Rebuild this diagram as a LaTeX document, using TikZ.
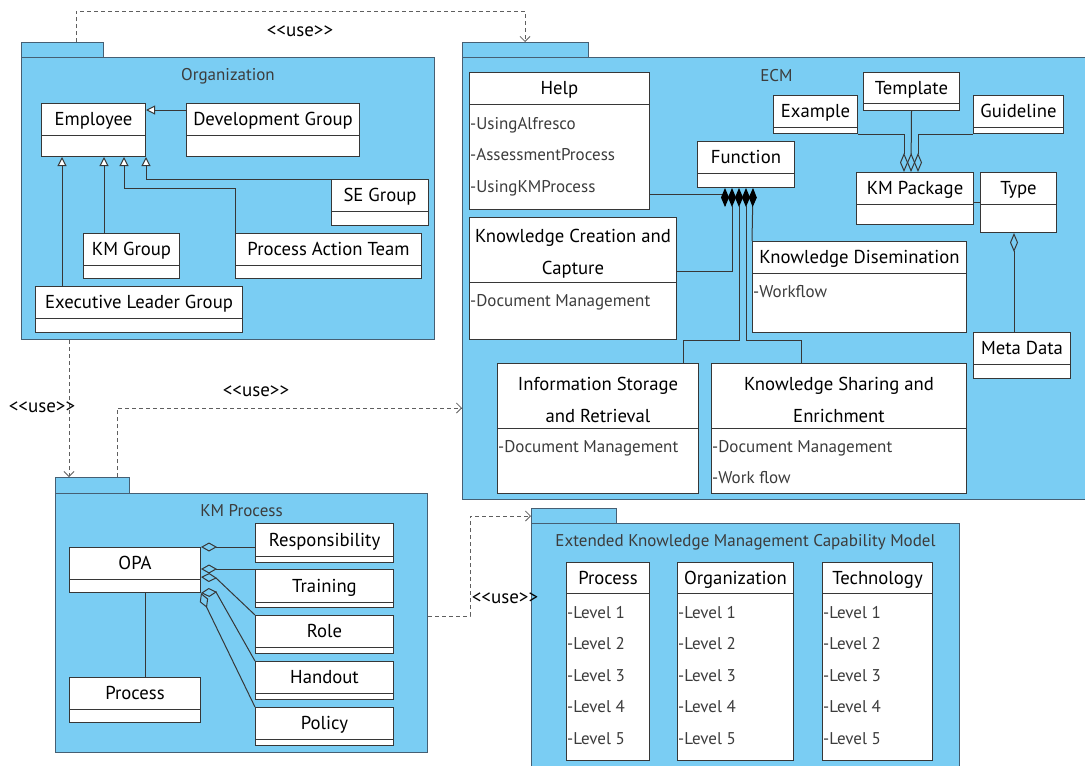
\documentclass[tikz,border=0pt]{standalone}
\usepackage{fontspec}
\setmainfont{PT Sans}
\usetikzlibrary{arrows.meta,positioning}

\definecolor{pkgblue}{RGB}{122,205,243}
\definecolor{pkgline}{RGB}{70,95,115}
\definecolor{clsline}{RGB}{55,55,55}
\definecolor{attrgray}{RGB}{60,60,60}
\definecolor{usegray}{RGB}{95,95,95}

\tikzset{
  pkg/.style={draw=pkgline, fill=pkgblue, line width=1pt, inner sep=0pt, anchor=north west},
  cls/.style={draw=clsline, fill=white, line width=1pt, inner sep=0pt, anchor=north west},
  div/.style={draw=clsline, line width=1pt},
  clsname/.style={inner sep=0pt, text height=12.5pt, text depth=4pt, font=\fontsize{18.7}{22}\selectfont},
  twoline/.style={inner sep=0pt, align=center, font=\fontsize{18.7}{32}\selectfont},
  attr/.style={inner sep=0pt, anchor=west, text=attrgray, text height=12.5pt, text depth=4pt},
  pkgtitle/.style={inner sep=0pt, text=attrgray, text height=12.5pt, text depth=4pt},
  uselabel/.style={inner sep=0pt, font=\fontsize{19}{22}\selectfont},
  assoc/.style={draw=clsline, line width=1pt},
  gen/.style={assoc, -{Triangle[open, fill=white, length=9pt, width=9pt]}},
  aggr/.style={assoc, -{Diamond[open, length=19pt, width=8pt]}},
  aggrkm/.style={assoc, -{Diamond[open, length=16pt, width=9pt]}},
  comp/.style={assoc, -{Diamond[black, length=19pt, width=8pt]}},
  use/.style={draw=usegray, line width=0.8pt, dash pattern=on 4pt off 3pt,
    -{Straight Barb[length=5pt, width=10pt]}}
}

\begin{document}
\begin{tikzpicture}[x=1pt, y=-1pt, font=\fontsize{17}{20}\selectfont]
\useasboundingbox (0,0) rectangle (1085,766);

% packages
\node[pkg, minimum width=82pt, minimum height=15pt] (orgtab) at (21,42) {};
\node[pkg, minimum width=413pt, minimum height=282pt] (org) at (21,57) {};
\node[pkg, minimum width=126pt, minimum height=15pt] (ecmtab) at (462,42) {};
\node[pkg, minimum width=628pt, minimum height=442pt] (ecm) at (462,57) {};
\node[pkg, minimum width=74pt, minimum height=16pt] (kmptab) at (55,477) {};
\node[pkg, minimum width=372pt, minimum height=259pt] (kmp) at (55,493) {};
\node[pkg, minimum width=85pt, minimum height=15pt] (ekmtab) at (531,508) {};
\node[pkg, minimum width=428pt, minimum height=260pt] (ekm) at (531,523) {};

\node[pkgtitle] (orgtitle) at ([yshift=-19]org.north) {Organization};
\node[pkgtitle] (ecmtitle) at ([yshift=-20]ecm.north) {ECM};
\node[pkgtitle] (kmptitle) at ([yshift=-19]kmp.north) {KM Process};
\node[pkgtitle] (ekmtitle) at ([yshift=-19]ekm.north) {Extended Knowledge Management Capability Model};

% classes with a one-line name
\foreach \n/\x/\y/\w/\h/\d/\t in {
    emp/41/103/104/53/32/Employee, dev/186/103/173/53/32/Development Group,
    se/331/179/97/46/32/SE Group, kmg/83/233/96/45/32/KM Group,
    pat/235/233/186/45/32/Process Action Team, elg/35/286/207/46/32/Executive Leader Group,
    help/469/72/180/137/32/Help, func/697/141/97/46/32/Function,
    example/773/95/84/38/32/Example, template/863/72/96/38/31/Template,
    guide/973/95/90/38/32/Guideline, kmpkg/856/172/117/52/32/KM Package,
    type/980/172/76/60/32/Type, meta/973/332/97/46/32/Meta Data,
    kd/752/241/214/91/32/Knowledge Disemination,
    opa/69/547/131/45/32/OPA, proc/69/677/131/45/32/Process,
    resp/255/523/138/39/33/Responsibility, train/255/569/138/38/33/Training,
    role/255/615/138/38/32/Role, hand/255/661/138/38/32/Handout,
    policy/255/707/138/38/32/Policy,
    ep/566/562/83/198/31/Process, eo/677/562/116/198/31/Organization,
    et/822/562/110/198/31/Technology}{
  \node[cls, minimum width=\w pt, minimum height=\h pt] (\n) at (\x,\y) {};
  \draw[div] ([yshift=-\d]\n.north west) -- ([yshift=-\d]\n.north east);
  \node[clsname] (\n name) at ([yshift=-\d/2-2.5]\n.north) {\t};
}

% classes with a two-line name
\node[cls, minimum width=207pt, minimum height=122pt] (kcc) at (469,217) {};
\draw[div] ([yshift=-65]kcc.north west) -- ([yshift=-65]kcc.north east);
\node[twoline] (kccname) at ([yshift=-37]kcc.north) {Knowledge Creation and\\Capture};
\node[cls, minimum width=201pt, minimum height=130pt] (isr) at (497,363) {};
\draw[div] ([yshift=-65]isr.north west) -- ([yshift=-65]isr.north east);
\node[twoline] (isrname) at ([yshift=-37]isr.north) {Information Storage\\and Retrieval};
\node[cls, minimum width=255pt, minimum height=130pt] (kse) at (711,363) {};
\draw[div] ([yshift=-65]kse.north west) -- ([yshift=-65]kse.north east);
\node[twoline] (ksename) at ([yshift=-37]kse.north) {Knowledge Sharing and\\Enrichment};

% attributes
\node[attr] (help1) at ([xshift=1,yshift=-53]help.north west) {-UsingAlfresco};
\node[attr] (help2) at ([xshift=1,yshift=-84]help.north west) {-AssessmentProcess};
\node[attr] (help3) at ([xshift=1,yshift=-116]help.north west) {-UsingKMProcess};
\node[attr] (kcc1) at ([xshift=1,yshift=-85]kcc.north west) {-Document Management};
\node[attr] (kd1) at ([xshift=1,yshift=-52]kd.north west) {-Workflow};
\node[attr] (isr1) at ([xshift=1,yshift=-85]isr.north west) {-Document Management};
\node[attr] (kse1) at ([xshift=1,yshift=-85]kse.north west) {-Document Management};
\node[attr] (kse2) at ([xshift=1,yshift=-116]kse.north west) {-Work flow};
\foreach \c in {ep,eo,et}
  \foreach \i in {1,...,5}
    \node[attr] (\c\i) at ([xshift=1,yshift={-52-31.5*(\i-1)}]\c.north west) {-Level \i};

% Organization
\draw[gen] ([yshift=-7]dev.north west) -- ([yshift=-7]emp.north east);
\draw[gen] ([xshift=27]elg.north west) -- ([xshift=21]emp.south west);
\draw[gen] ([xshift=21]kmg.north west) -- ([xshift=63]emp.south west);
\draw[gen] (pat.north west) |- ([xshift=83,yshift=-31]emp.south west) -- ([xshift=83]emp.south west);
\draw[gen] (se.north west) -| (emp.south east);

% ECM
\draw[comp] ([yshift=-122]help.north east) -| ([xshift=-21]func.south);
\draw[comp] ([yshift=-54]kcc.north east) -| ([xshift=-14]func.south);
\draw[comp] ([xshift=186]isr.north west) -- ++(0,-23) -| ([xshift=-7]func.south);
\draw[comp] ([xshift=90]kse.north west) -- ++(0,-23) -| (func.south);
\draw[comp] (kd.north west) -- ([xshift=7]func.south);
\draw[aggr] (example.south east) -| ([xshift=48]kmpkg.north west);
\draw[aggr] (template.south) -- ([xshift=55]kmpkg.north west);
\draw[aggr] (guide.south west) -| ([xshift=62]kmpkg.north west);
\draw[assoc] ([yshift=-30]kmpkg.north east) -- ([yshift=-30]type.north west);
\draw[aggr] ([xshift=41]meta.north west) -- ([xshift=34]type.south west);

% KM Process
\draw[aggrkm] ([yshift=-24]resp.north west) -- (opa.north east);
\draw[aggrkm] (train.north west) -- ([yshift=-22]opa.north east);
\draw[aggrkm] (role.north west) -- ([xshift=15,yshift=-31]opa.north east) -- ([yshift=-30]opa.north east);
\draw[aggrkm] (hand.north west) -- ([xshift=15,yshift=1]opa.south east) -- (opa.south east);
\draw[aggrkm] (policy.north west) -- ([xshift=6,yshift=-15]opa.south east) -- (opa.south east);
\draw[assoc] ([xshift=76]opa.south west) -- ([xshift=76]proc.north west);

% <<use>> dependencies
\draw[use] ([xshift=55]orgtab.north west) -- ++(0,-31) -| ([xshift=63]ecmtab.north west);
\draw[use] ([xshift=48]org.south west) -- ([xshift=14]kmptab.north west);
\draw[use] ([xshift=62]kmptab.north west) |- ([yshift=-351]ecm.north west);
\draw[use] ([yshift=-123]kmp.north east) -- ++(42,0) |- (ekmtab.west);
\node[uselabel] (use1) at (300,31) {<\kern0pt<use>\kern0pt>};
\node[uselabel] (use2) at (42,407) {<\kern0pt<use>\kern0pt>};
\node[uselabel] (use3) at (256,391) {<\kern0pt<use>\kern0pt>};
\node[uselabel] (use4) at (505,598) {<\kern0pt<use>\kern0pt>};
\end{tikzpicture}
\end{document}
